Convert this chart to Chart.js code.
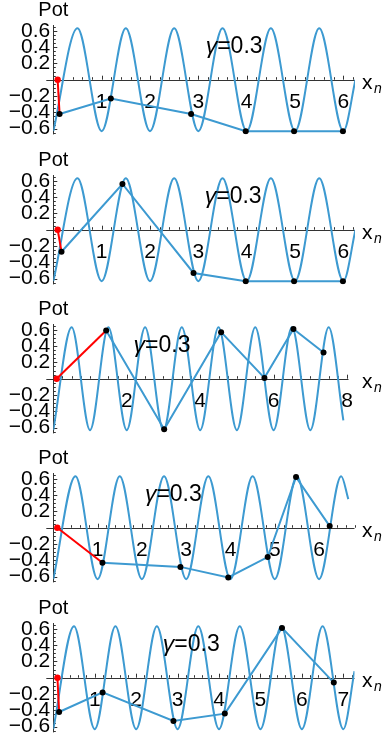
<!DOCTYPE html>
<html>
<head>
<meta charset="utf-8">
<script src="https://cdn.jsdelivr.net/npm/chart.js@4.4.0/dist/chart.umd.min.js"></script>
<style>
  body { margin: 0; background: #fff; width: 382px; height: 742px; overflow: hidden; position: relative; }
  canvas { position: absolute; left: 0; }
</style>
</head>
<body>
<canvas id="c0" width="382" height="150" style="top:0px"></canvas>
<canvas id="c1" width="382" height="150" style="top:150px"></canvas>
<canvas id="c2" width="382" height="150" style="top:299px"></canvas>
<canvas id="c3" width="382" height="150" style="top:448px"></canvas>
<canvas id="c4" width="382" height="150" style="top:598px"></canvas>
<script>
// the cosine well: its minima and maxima
const potX = [0, 0.5, 1, 1.5, 2, 2.5, 3, 3.5, 4, 4.5, 5, 5.5, 6, 6.5, 7, 7.5, 8];
const potY = [-0.63, 0.63, -0.63, 0.63, -0.63, 0.63, -0.63, 0.63, -0.63, 0.63, -0.63, 0.63, -0.63, 0.63, -0.63, 0.63, -0.63];

// where the curve stops in each panel [x, Pot]
const end1 = [6.25, 0.0];
const end2 = [6.25, 0.0];
const end3 = [7.9, -0.51];
const end4 = [6.66, 0.35];
const end5 = [7.27, 0.08];

// the walk x_n -> Pot(x_n), first step is the red one
const path1X = [0.09, 0.13, 1.19, 2.85, 3.98, 4.98, 5.99];
const path1Y = [0, -0.42, -0.23, -0.42, -0.63, -0.63, -0.63];
const path2X = [0.09, 0.17, 1.43, 2.90, 3.98, 4.98, 5.99];
const path2Y = [0, -0.27, 0.56, -0.53, -0.63, -0.63, -0.63];
const path3X = [0.09, 1.44, 3.02, 4.57, 5.75, 6.54, 7.36];
const path3Y = [0, 0.59, -0.62, 0.57, 0.01, 0.61, 0.32];
const path4X = [0.09, 1.11, 2.87, 3.95, 4.84, 5.48, 6.24];
const path4Y = [0, -0.43, -0.48, -0.61, -0.36, 0.62, 0.02];
const path5X = [0.1, 0.14, 1.19, 2.9, 4.14, 5.52, 6.77];
const path5Y = [0, -0.42, -0.18, -0.53, -0.44, 0.61, -0.06];

const xTicks1 = [1, 2, 3, 4, 5, 6];
const xTicks3 = [2, 4, 6, 8];
const xTicks4 = [1, 2, 3, 4, 5, 6];
const xTicks5 = [1, 2, 3, 4, 5, 6, 7];
const yTicks = [-0.6, -0.4, -0.2, 0.2, 0.4, 0.6];

const gammaLabel = '0.3';

const blue = '#3d9ad1';
const font = 'Liberation Sans, Arial, sans-serif';

const panels = [
  { id: 'c0', xMax: 6.24, right: 355, xTicks: xTicks1, minor: 0.2, px: path1X, py: path1Y, end: end1, gam: [3.74, 0.40] },
  { id: 'c1', xMax: 6.24, right: 355, xTicks: xTicks1, minor: 0.2, px: path2X, py: path2Y, end: end2, gam: [3.72, 0.40] },
  { id: 'c2', xMax: 8.04, right: 348.5, xTicks: xTicks3, minor: 0.25, px: path3X, py: path3Y, end: end3, gam: [2.96, 0.41] },
  { id: 'c3', xMax: 6.8, right: 354.5, xTicks: xTicks4, minor: 0.2, px: path4X, py: path4Y, end: end4, gam: [2.71, 0.40] },
  { id: 'c4', xMax: 7.27, right: 354.5, xTicks: xTicks5, minor: 0.2, px: path5X, py: path5Y, end: end5, gam: [3.33, 0.41] }
];

function fmt(v) {
  let s = Math.abs(v).toFixed(1);
  return v < 0 ? '\u2212' + s : s;
}

const mmaAxes = {
  id: 'mmaAxes',
  beforeDatasetsDraw(chart, args, opts) {
    const { ctx, chartArea: a, scales: { x, y } } = chart;
    const y0 = y.getPixelForValue(0), x0 = x.getPixelForValue(0);
    ctx.save();
    ctx.strokeStyle = '#333';
    ctx.lineWidth = 1;
    ctx.beginPath();
    ctx.moveTo(a.left - 7, Math.round(y0) + 0.5);
    ctx.lineTo(a.right, Math.round(y0) + 0.5);
    ctx.moveTo(Math.round(x0) + 0.5, a.top);
    ctx.lineTo(Math.round(x0) + 0.5, a.bottom);
    for (let i = 1; i * opts.minor <= x.max + 1e-9; i++) {
      let v = i * opts.minor;
      let major = opts.xTicks.some(t => Math.abs(t - v) < 1e-6);
      let p = Math.round(x.getPixelForValue(v)) + 0.5;
      ctx.moveTo(p, y0);
      ctx.lineTo(p, y0 - (major ? 4 : 2.5));
    }
    for (let i = -13; i <= 13; i++) {
      if (i == 0) continue;
      let v = i * 0.05;
      let major = i % 4 == 0;
      let p = Math.round(y.getPixelForValue(v)) + 0.5;
      ctx.moveTo(x0, p);
      ctx.lineTo(x0 + (major ? 4 : 2.5), p);
    }
    ctx.stroke();
    ctx.restore();
  },
  afterDraw(chart, args, opts) {
    const { ctx, chartArea: a, scales: { x, y } } = chart;
    const y0 = y.getPixelForValue(0), x0 = x.getPixelForValue(0);
    ctx.save();
    ctx.fillStyle = '#000';
    ctx.textBaseline = 'alphabetic';
    ctx.font = '20px ' + font;
    ctx.textAlign = 'center';
    ctx.fillText('Pot', x0, a.top - 9);
    ctx.textAlign = 'left';
    ctx.font = '21px ' + font;
    ctx.fillText('x', 362, y0 + 9);
    ctx.font = 'italic 14px ' + font;
    ctx.fillText('n', 374, y0 + 13);
    // gamma label
    let gx = x.getPixelForValue(opts.gam[0]), gy = y.getPixelForValue(opts.gam[1]);
    ctx.font = 'italic 23px ' + font;
    let w1 = ctx.measureText('\u03b3').width;
    ctx.font = '23px ' + font;
    let w2 = ctx.measureText('=' + gammaLabel).width;
    let left = gx - (w1 + w2) / 2;
    ctx.textBaseline = 'middle';
    ctx.font = 'italic 23px ' + font;
    ctx.fillText('\u03b3', left, gy);
    ctx.font = '23px ' + font;
    ctx.fillText('=' + gammaLabel, left + w1, gy);
    ctx.restore();
  }
};

panels.forEach(p => {
  let curve = [];
  for (let i = 0; i < potX.length; i++) {
    if (potX[i] < p.end[0]) curve.push({ x: potX[i], y: potY[i] });
  }
  curve.push({ x: p.end[0], y: p.end[1] });

  let pts = p.px.map((v, i) => ({ x: v, y: p.py[i] }));

  new Chart(document.getElementById(p.id), {
    type: 'line',
    data: {
      datasets: [
        { data: pts.slice(1), showLine: false, pointRadius: 3, pointBackgroundColor: '#000', pointBorderColor: '#000', pointBorderWidth: 0 },
        { data: pts.slice(0, 2), borderColor: '#f00', borderWidth: 2, pointRadius: [3.2, 0], pointBackgroundColor: '#f00', pointBorderWidth: 0 },
        { data: pts.slice(1), borderColor: blue, borderWidth: 2, pointRadius: 0 },
        { data: curve, borderColor: blue, borderWidth: 2, pointRadius: 0, cubicInterpolationMode: 'monotone' }
      ]
    },
    options: {
      responsive: false,
      animation: false,
      devicePixelRatio: 1,
      layout: { padding: { left: 0, right: 382 - p.right, top: 25, bottom: 13 } },
      plugins: {
        legend: { display: false },
        tooltip: { enabled: false },
        mmaAxes: { minor: p.minor, xTicks: p.xTicks, gam: p.gam }
      },
      scales: {
        x: {
          type: 'linear', min: 0, max: p.xMax, position: { y: 0 },
          grid: { display: false, drawTicks: false }, border: { display: false },
          afterBuildTicks: s => { s.ticks = p.xTicks.map(v => ({ value: v })); },
          ticks: { color: '#000', font: { family: font, size: 21 }, padding: 10, maxRotation: 0, autoSkip: false, callback: v => String(v) }
        },
        y: {
          type: 'linear', min: -0.67, max: 0.67,
          afterFit: s => { s.width = 53.3; },
          grid: { display: false, drawTicks: false }, border: { display: false },
          afterBuildTicks: s => { s.ticks = yTicks.map(v => ({ value: v })); },
          ticks: { color: '#000', font: { family: font, size: 21 }, padding: 3, autoSkip: false, callback: v => fmt(v) }
        }
      }
    },
    plugins: [mmaAxes]
  });
});
</script>
</body>
</html>
